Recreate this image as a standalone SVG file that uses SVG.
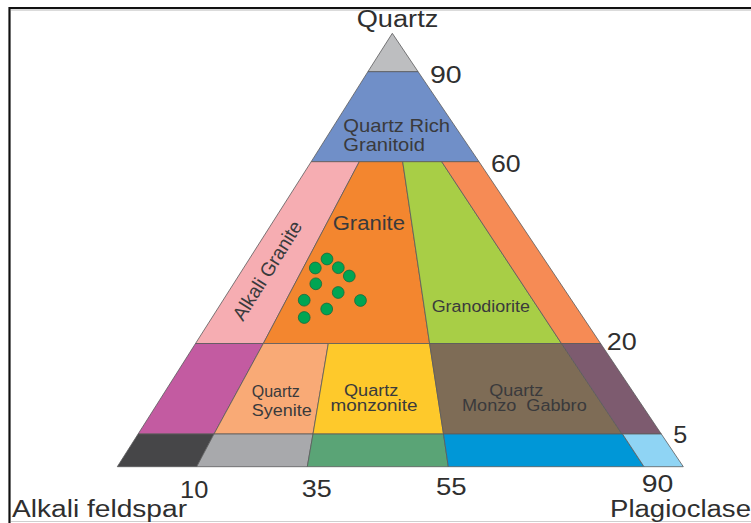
<svg xmlns="http://www.w3.org/2000/svg" width="751" height="523" viewBox="0 0 751 523">
<style>
.r{stroke:#5a5a5c;stroke-width:0.8;stroke-linejoin:round}
.big{font-family:"Liberation Sans",Arial,sans-serif;fill:#2f2f2f}
.lab{font-family:"Liberation Sans",Arial,sans-serif;fill:#3a3a3c}
.dot{fill:#00a553;stroke:#17693d;stroke-width:0.8}
</style>
<rect width="751" height="523" fill="#ffffff"/>
<g id="frame">
<path d="M751,8 H9.5 V523" fill="none" stroke="#111" stroke-width="2.2"/>
<line x1="11" y1="10" x2="751" y2="10" stroke="#b8b8b8" stroke-width="1"/>
<line x1="11" y1="521.5" x2="751" y2="521.5" stroke="#cfcfcf" stroke-width="1"/>
</g>
<g id="fields">
<g id="quartzolite"><polygon class="r" fill="#bdbec0" points="392.3,33.3 418.1,71.7 367.9,71.7"/></g>
<g id="quartz-rich-granitoid"><polygon class="r" fill="#708fc8" points="367.9,71.7 418.1,71.7 479,161.7 311.2,161.7"/>
<text class="lab" x="343.3" y="131.7" font-size="19" textLength="106.7" lengthAdjust="spacingAndGlyphs">Quartz Rich</text>
<text class="lab" x="343.3" y="151" font-size="19" textLength="81.7" lengthAdjust="spacingAndGlyphs">Granitoid</text></g>
<g id="alkali-granite"><polygon class="r" fill="#f6adb2" points="311.2,161.7 359.3,161.7 263.3,343.5 195.5,343.5"/>
<text class="lab" x="0" y="0" font-size="19.5" text-anchor="middle" textLength="113" lengthAdjust="spacingAndGlyphs" transform="translate(273,274) rotate(-58)">Alkali Granite</text></g>
<g id="granite"><polygon class="r" fill="#f3862f" points="359.3,161.7 402.7,161.7 429.6,343.5 263.3,343.5"/>
<text class="lab" x="332.7" y="230" font-size="19.5" textLength="72.3" lengthAdjust="spacingAndGlyphs">Granite</text></g>
<g id="granodiorite"><polygon class="r" fill="#a8ce46" points="402.7,161.7 441.7,161.7 561.5,343.5 429.6,343.5"/>
<text class="lab" x="431.7" y="311.7" font-size="16" textLength="98.3" lengthAdjust="spacingAndGlyphs">Granodiorite</text></g>
<g id="tonalite"><polygon class="r" fill="#f68b55" points="441.7,161.7 479,161.7 600.6,343.5 561.5,343.5"/></g>
<g id="quartz-alkali-syenite"><polygon class="r" fill="#c35ba1" points="195.5,343.5 263.3,343.5 214,434 138.1,434"/></g>
<g id="quartz-syenite"><polygon class="r" fill="#f9aa76" points="263.3,343.5 328.3,343.5 313,434 214,434"/>
<text class="lab" x="251.7" y="397.3" font-size="16" textLength="48" lengthAdjust="spacingAndGlyphs">Quartz</text>
<text class="lab" x="251.7" y="415.5" font-size="16" textLength="60" lengthAdjust="spacingAndGlyphs">Syenite</text></g>
<g id="quartz-monzonite"><polygon class="r" fill="#fec92b" points="328.3,343.5 429.6,343.5 443.5,434 313,434"/>
<text class="lab" x="344" y="395.5" font-size="16" textLength="54.3" lengthAdjust="spacingAndGlyphs">Quartz</text>
<text class="lab" x="330.5" y="411" font-size="16" textLength="87" lengthAdjust="spacingAndGlyphs">monzonite</text></g>
<g id="quartz-monzo-gabbro"><polygon class="r" fill="#7e6c56" points="429.6,343.5 561.5,343.5 622,434 443.5,434"/>
<text class="lab" x="489.3" y="395.5" font-size="16" textLength="54" lengthAdjust="spacingAndGlyphs">Quartz</text>
<text class="lab" x="462" y="411" font-size="16" textLength="124.7" lengthAdjust="spacingAndGlyphs" style="white-space:pre">Monzo  Gabbro</text></g>
<g id="quartz-gabbro"><polygon class="r" fill="#7d5b6f" points="561.5,343.5 600.6,343.5 661.3,434 622,434"/></g>
<g id="alkali-syenite"><polygon class="r" fill="#464648" points="138.1,434 214,434 196.7,466.7 117.3,466.7"/></g>
<g id="syenite"><polygon class="r" fill="#a8a9ac" points="214,434 313,434 307.3,466.7 196.7,466.7"/></g>
<g id="monzonite"><polygon class="r" fill="#5aa476" points="313,434 443.5,434 448.3,466.7 307.3,466.7"/></g>
<g id="monzodiorite"><polygon class="r" fill="#0097d7" points="443.5,434 622.5,434 644,466.7 448.3,466.7"/></g>
<g id="gabbro"><polygon class="r" fill="#8fd4f4" points="622.5,434 661.3,434 683.3,466.7 644,466.7"/></g>
</g>
<g id="samples">
<circle class="dot" cx="327" cy="259" r="5.9"/>
<circle class="dot" cx="315.3" cy="268" r="5.9"/>
<circle class="dot" cx="338.3" cy="267.7" r="5.9"/>
<circle class="dot" cx="349.3" cy="276" r="5.9"/>
<circle class="dot" cx="315.8" cy="283.8" r="5.9"/>
<circle class="dot" cx="338.2" cy="292.5" r="5.9"/>
<circle class="dot" cx="304.2" cy="300.2" r="5.9"/>
<circle class="dot" cx="360.5" cy="300.5" r="5.9"/>
<circle class="dot" cx="326.7" cy="309" r="5.9"/>
<circle class="dot" cx="304.2" cy="317.5" r="5.9"/>
</g>
<g id="connectors"></g>
<g id="axis-labels">
<text class="big" x="397.5" y="26.7" font-size="23" text-anchor="middle" textLength="81.6" lengthAdjust="spacingAndGlyphs">Quartz</text>
<text class="big" x="12" y="517" font-size="23" textLength="175" lengthAdjust="spacingAndGlyphs">Alkali feldspar</text>
<text class="big" x="610" y="517" font-size="23" textLength="141" lengthAdjust="spacingAndGlyphs">Plagioclase</text>
<text class="big" x="430" y="83.3" font-size="24.5" textLength="31.7" lengthAdjust="spacingAndGlyphs">90</text>
<text class="big" x="491" y="172" font-size="24" textLength="29.7" lengthAdjust="spacingAndGlyphs">60</text>
<text class="big" x="606.7" y="349.5" font-size="24" textLength="30" lengthAdjust="spacingAndGlyphs">20</text>
<text class="big" x="673.3" y="443.3" font-size="24" textLength="14" lengthAdjust="spacingAndGlyphs">5</text>
<text class="big" x="180" y="498.3" font-size="24" textLength="28.3" lengthAdjust="spacingAndGlyphs">10</text>
<text class="big" x="301.7" y="497.3" font-size="24" textLength="30" lengthAdjust="spacingAndGlyphs">35</text>
<text class="big" x="436" y="495" font-size="24" textLength="30.7" lengthAdjust="spacingAndGlyphs">55</text>
<text class="big" x="641.7" y="491.7" font-size="24" textLength="31.6" lengthAdjust="spacingAndGlyphs">90</text>
</g>
</svg>
